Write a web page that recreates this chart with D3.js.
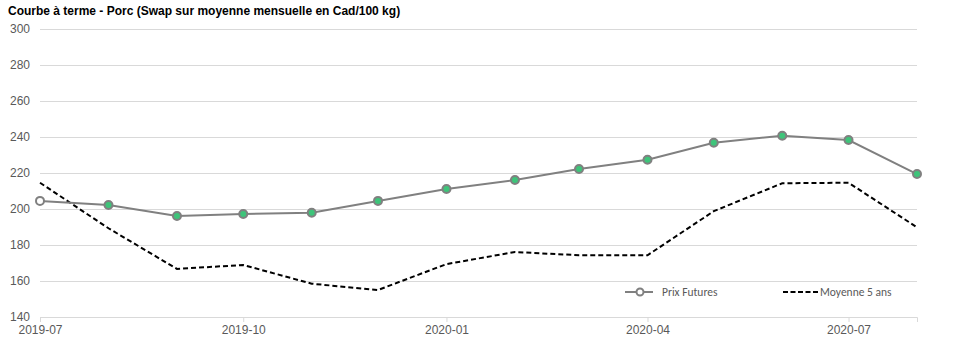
<!DOCTYPE html>
<html><head><meta charset="utf-8">
<script src="https://cdn.jsdelivr.net/npm/d3@7"></script>
<style>body{margin:0;background:#fff}svg{display:block}</style>
</head><body><svg id="c" width="957" height="353"></svg>
<script>
const months = ["2019-07","2019-08","2019-09","2019-10","2019-11","2019-12","2020-01","2020-02","2020-03","2020-04","2020-05","2020-06","2020-07","2020-08"];
const prixFutures = [204.5,202.2,196.1,197.2,197.9,204.5,211.1,216.1,222.2,227.4,236.8,240.7,238.3,219.4];
const moyenne5ans = [214.6,189.3,166.7,168.9,158.5,155.0,169.4,176.1,174.3,174.3,198.8,214.3,214.6,189.8];
const yTicks = [140,160,180,200,220,240,260,280,300];
const xTickLabels = ["2019-07","2019-10","2020-01","2020-04","2020-07"];
const title = "Courbe à terme - Porc (Swap sur moyenne mensuelle en Cad/100 kg)";
const legendLabels = ["Prix Futures","Moyenne 5 ans"];

const parse = d3.timeParse("%Y-%m");
const dates = months.map(parse);
const svg = d3.select("#c");
const L=40,R=917,T=29,B=317;
const x = d3.scaleTime().domain([dates[0],dates[dates.length-1]]).range([L,R]);
const y = d3.scaleLinear().domain([140,300]).range([B,T]);
const font = "'Liberation Sans', Arial, sans-serif";

svg.append("text").attr("x",8).attr("y",15).attr("font-family",font).attr("font-size",12).attr("font-weight","bold").attr("fill","#000").text(title);

const gy = svg.append("g").attr("transform",`translate(${L},0)`)
  .call(d3.axisLeft(y).tickValues(yTicks).tickSize(-(R-L)).tickPadding(10).tickFormat(d3.format("d")));
gy.select(".domain").remove();
gy.selectAll(".tick line").attr("stroke","#d9d9d9");
gy.selectAll(".tick text").attr("font-family",font).attr("font-size",12).attr("fill","#595959");

const gx = svg.append("g").attr("transform",`translate(0,${B})`)
  .call(d3.axisBottom(x).tickValues(xTickLabels.map(parse)).tickSize(5).tickPadding(3).tickFormat(d3.timeFormat("%Y-%m")));
gx.select(".domain").attr("stroke","#d9d9d9");
gx.selectAll(".tick line").attr("stroke","#d9d9d9");
gx.selectAll(".tick text").attr("font-family",font).attr("font-size",12).attr("fill","#595959");

const line = d3.line().x((d,i)=>x(dates[i])).y(d=>y(d));
svg.append("path").datum(moyenne5ans).attr("d",line).attr("fill","none").attr("stroke","#000").attr("stroke-width",2).attr("stroke-dasharray","5,3");
svg.append("path").datum(prixFutures).attr("d",line).attr("fill","none").attr("stroke","#808080").attr("stroke-width",2);
svg.selectAll("circle.pt").data(prixFutures).enter().append("circle").attr("class","pt")
  .attr("cx",(d,i)=>x(dates[i])).attr("cy",d=>y(d)).attr("r",4)
  .attr("fill",(d,i)=>i===0?"#fff":"#3ec47a").attr("stroke","#808080").attr("stroke-width",2);

const lf = "Carlito, Lato, 'Open Sans', sans-serif";
const lg = svg.append("g");
lg.append("line").attr("x1",625).attr("x2",653).attr("y1",292).attr("y2",292).attr("stroke","#808080").attr("stroke-width",2);
lg.append("circle").attr("cx",640).attr("cy",292).attr("r",3.5).attr("fill","#fff").attr("stroke","#808080").attr("stroke-width",2);
lg.append("text").attr("x",662).attr("y",296).attr("font-family",lf).attr("font-size",11.5).attr("fill","#595959").text(legendLabels[0]);
lg.append("line").attr("x1",783).attr("x2",818).attr("y1",292).attr("y2",292).attr("stroke","#000").attr("stroke-width",2).attr("stroke-dasharray","5,2.5");
lg.append("text").attr("x",820).attr("y",296).attr("font-family",lf).attr("font-size",11.5).attr("fill","#595959").text(legendLabels[1]);
</script></body></html>
